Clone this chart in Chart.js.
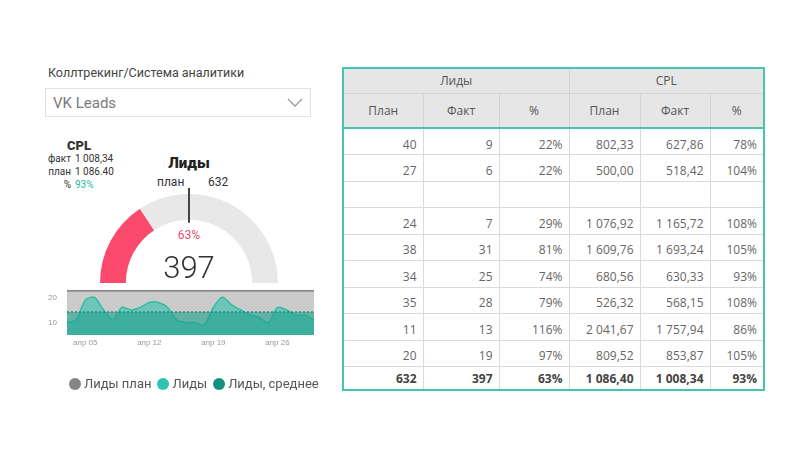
<!DOCTYPE html>
<html>
<head>
<meta charset="utf-8">
<script src="https://cdn.jsdelivr.net/npm/chart.js@4"></script>
<style>
body { margin: 0; width: 800px; height: 450px; background: #fff; position: relative; overflow: hidden; font-family: Roboto, "Noto Sans", sans-serif; }
.abs { position: absolute; white-space: nowrap; }
#title { left: 48px; top: 65px; font-size: 12.5px; color: #444; }
#dropdown { left: 45px; top: 88px; width: 266px; height: 29px; border: 1px solid #e2e2e2; box-sizing: border-box; }
#dropdown span { position: absolute; left: 7px; top: 5px; font-size: 15px; color: #7a7a7a; }
#dropdown svg { position: absolute; right: 6px; top: 8px; }
#cpl { left: 44px; top: 139px; font-size: 10px; color: #333; line-height: 13px; }
#cpl b { display: block; text-align: center; font-size: 13px; font-weight: 900; width: 70px; }
#cpl .k { display: inline-block; width: 27px; text-align: right; margin-right: 4px; }
#cpl .teal { color: #2ab7a4; }
#leadsTitle { left: 139px; top: 154px; width: 100px; text-align: center; font-size: 15px; font-weight: 900; color: #222; }
#planLbl { left: 157px; top: 175px; font-size: 12px; color: #333; }
#planVal { left: 208px; top: 175px; font-size: 12px; color: #333; }
#gauge { left: 90px; top: 180px; }
#pct { left: 139px; top: 228px; width: 100px; text-align: center; font-size: 12px; color: #f04a6d; }
#big { left: 139px; top: 249px; width: 100px; text-align: center; font-size: 31px; font-weight: 300; color: #333; }
#area { left: 40px; top: 275px; }
#legend { left: 69px; top: 376px; font-size: 13px; color: #555; display: flex; align-items: center; }
#legend i { display: inline-block; width: 12px; height: 12px; border-radius: 50%; margin-right: 3px; }
#legend span { margin-right: 6px; display: flex; align-items: center; }
#tbl { left: 342px; top: 67px; border-collapse: collapse; border: 2px solid #44c4b1; font-family: "Open Sans", "Noto Sans", sans-serif; font-size: 12px; color: #666; }
#tbl td, #tbl th { border: 1px solid #dadada; padding: 5px 6px 0 0; text-align: right; box-sizing: border-box; }
#tbl th { background: #e6e6e6; font-weight: normal; text-align: center; color: #555; padding: 0; border-color: #d4d4d4; }
#tbl tr.h1 th { height: 25px; }
#tbl tr.h2 th { height: 35px; border-bottom: 2px solid #44c4b1; }
#tbl tr.d td { height: 26.5px; }
#tbl tr.tot td { height: 23px; font-weight: bold; color: #444; padding-top: 2px; }
</style>
</head>
<body>
<div id="title" class="abs">Коллтрекинг/Система аналитики</div>
<div id="dropdown" class="abs"><span>VK Leads</span>
<svg width="18" height="12"><polyline points="2,2 9,9 16,2" fill="none" stroke="#999" stroke-width="1.3"/></svg></div>
<div id="cpl" class="abs"></div>
<div id="leadsTitle" class="abs">Лиды</div>
<div id="planLbl" class="abs">план</div>
<div id="planVal" class="abs"></div>
<canvas id="gauge" class="abs" width="198" height="110"></canvas>
<div id="pct" class="abs"></div>
<div id="big" class="abs"></div>
<canvas id="area" class="abs" width="280" height="75"></canvas>
<div id="legend" class="abs"></div>
<table id="tbl" class="abs"></table>
<script>
// gauge / cards
let leadsPlan = 632
let leadsFact = 397
let gaugeMax = 1264
let cplFact = "1 008,34"
let cplPlan = "1 086.40"
let cplPct = "93%"

// daily leads, апр 03 .. апр 30
let days = ["апр 03","апр 04","апр 05","апр 06","апр 07","апр 08","апр 09","апр 10","апр 11","апр 12",
    "апр 13","апр 14","апр 15","апр 16","апр 17","апр 18","апр 19","апр 20","апр 21","апр 22",
    "апр 23","апр 24","апр 25","апр 26","апр 27","апр 28","апр 29","апр 30"]
let leadsDaily = [10, 11, 19, 20, 15, 11, 16, 15, 16, 18, 18, 16, 11, 10, 10, 9, 16, 20, 17, 15, 13, 12, 10, 16, 15, 13, 13, 11]
let planDaily = 22.6
let avgDaily = 14.2
let tickDays = ["апр 05", "апр 12", "апр 19", "апр 26"]
let yTicks = [10, 20]

// table
let leadsPlanCol = ["40", "27", "", "24", "38", "34", "35", "11", "20"]
let leadsFactCol = ["9", "6", "", "7", "31", "25", "28", "13", "19"]
let leadsPctCol = ["22%", "22%", "", "29%", "81%", "74%", "79%", "116%", "97%"]
let cplPlanCol = ["802,33", "500,00", "", "1 076,92", "1 609,76", "680,56", "526,32", "2 041,67", "809,52"]
let cplFactCol = ["627,86", "518,42", "", "1 165,72", "1 693,24", "630,33", "568,15", "1 757,94", "853,87"]
let cplPctCol = ["78%", "104%", "", "108%", "105%", "93%", "108%", "86%", "105%"]
let totals = ["632", "397", "63%", "1 086,40", "1 008,34", "93%"]
let colWidths = [80, 76, 70, 71, 70, 54]

document.querySelector("#cpl").innerHTML =
    `<b>CPL</b><span class="k">факт</span>${cplFact}<br>` +
    `<span class="k">план</span>${cplPlan}<br>` +
    `<span class="k">%</span><span class="teal">${cplPct}</span>`
document.querySelector("#planVal").innerText = leadsPlan
document.querySelector("#pct").innerText = Math.round(leadsFact / leadsPlan * 100) + "%"
document.querySelector("#big").innerText = leadsFact

// table
let tbl = document.querySelector("#tbl")
let html = `<colgroup>${colWidths.map(w => `<col style="width:${w}px">`).join("")}</colgroup>`
html += `<tr class="h1"><th colspan="3">Лиды</th><th colspan="3">CPL</th></tr>`
html += `<tr class="h2"><th>План</th><th>Факт</th><th>%</th><th>План</th><th>Факт</th><th>%</th></tr>`
for(let i = 0; i < leadsPlanCol.length; i++) {
    let cells = [leadsPlanCol[i], leadsFactCol[i], leadsPctCol[i], cplPlanCol[i], cplFactCol[i], cplPctCol[i]]
    html += `<tr class="d">${cells.map(c => `<td>${c}</td>`).join("")}</tr>`
}
html += `<tr class="tot">${totals.map(c => `<td>${c}</td>`).join("")}</tr>`
tbl.innerHTML = html

// legend
let legendItems = [["Лиды план", "#858585"], ["Лиды", "#2ec4b0"], ["Лиды, среднее", "#15907f"]]
document.querySelector("#legend").innerHTML = legendItems.map(([t, c]) =>
    `<span><i style="background:${c}"></i>${t}</span>`).join("")

// gauge
let targetMarker = {
    id: "targetMarker",
    afterDraw(chart) {
        let arc = chart.getDatasetMeta(0).data[0]
        let a = -Math.PI + Math.PI * (leadsPlan / gaugeMax)
        let ctx = chart.ctx
        ctx.save()
        ctx.strokeStyle = "#444"
        ctx.lineWidth = 2
        ctx.beginPath()
        ctx.moveTo(arc.x + Math.cos(a) * (arc.outerRadius + 6), arc.y + Math.sin(a) * (arc.outerRadius + 6))
        ctx.lineTo(arc.x + Math.cos(a) * (arc.innerRadius - 3), arc.y + Math.sin(a) * (arc.innerRadius - 3))
        ctx.stroke()
        ctx.restore()
    }
}

new Chart(document.querySelector("#gauge"), {
    type: "doughnut",
    data: {
        labels: ["Лиды", ""],
        datasets: [{
            data: [leadsFact, gaugeMax - leadsFact],
            backgroundColor: ["#fb4a6c", "#e8e8e8"],
            borderWidth: 0
        }]
    },
    options: {
        responsive: false,
        animation: false,
        rotation: -90,
        circumference: 180,
        cutout: "71%",
        layout: { padding: { left: 10, right: 10, top: 14, bottom: 7 } },
        plugins: { legend: { display: false }, tooltip: { enabled: false } }
    },
    plugins: [targetMarker]
})

// area chart
new Chart(document.querySelector("#area"), {
    type: "line",
    data: {
        labels: days,
        datasets: [{
            label: "Лиды, среднее",
            data: days.map(() => avgDaily),
            borderColor: "#1f8f80",
            borderWidth: 1.5,
            borderDash: [2, 2],
            backgroundColor: "rgba(30,160,140,0.6)",
            fill: "start",
            pointRadius: 0,
            order: 1
        }, {
            label: "Лиды",
            data: leadsDaily,
            borderColor: "#33bba6",
            borderWidth: 1.5,
            backgroundColor: "rgba(70,195,175,0.7)",
            fill: "start",
            pointRadius: 0,
            tension: 0.25,
            order: 2
        }, {
            label: "Лиды план",
            data: days.map(() => planDaily),
            borderColor: "#8a8a8a",
            borderWidth: 2,
            backgroundColor: "#cbcbcb",
            fill: "start",
            pointRadius: 0,
            order: 3
        }]
    },
    options: {
        responsive: false,
        animation: false,
        layout: { padding: { top: 6, right: 6 } },
        plugins: { legend: { display: false }, tooltip: { enabled: false } },
        scales: {
            x: {
                grid: { display: false, drawTicks: false },
                border: { display: false },
                afterFit(scale) { scale.height = 12 },
                ticks: {
                    autoSkip: false,
                    maxRotation: 0,
                    padding: 3,
                    color: "#999",
                    font: { size: 8 },
                    callback(v, i) { return tickDays.includes(days[i]) ? days[i] : "" }
                }
            },
            y: {
                min: 5,
                max: 23,
                grid: { display: false, drawTicks: false },
                border: { display: false },
                afterFit(scale) { scale.width = 27 },
                afterBuildTicks(scale) { scale.ticks = yTicks.map(v => ({ value: v })) },
                ticks: { color: "#999", font: { size: 8 }, padding: 10 }
            }
        }
    }
})
</script>
</body>
</html>
